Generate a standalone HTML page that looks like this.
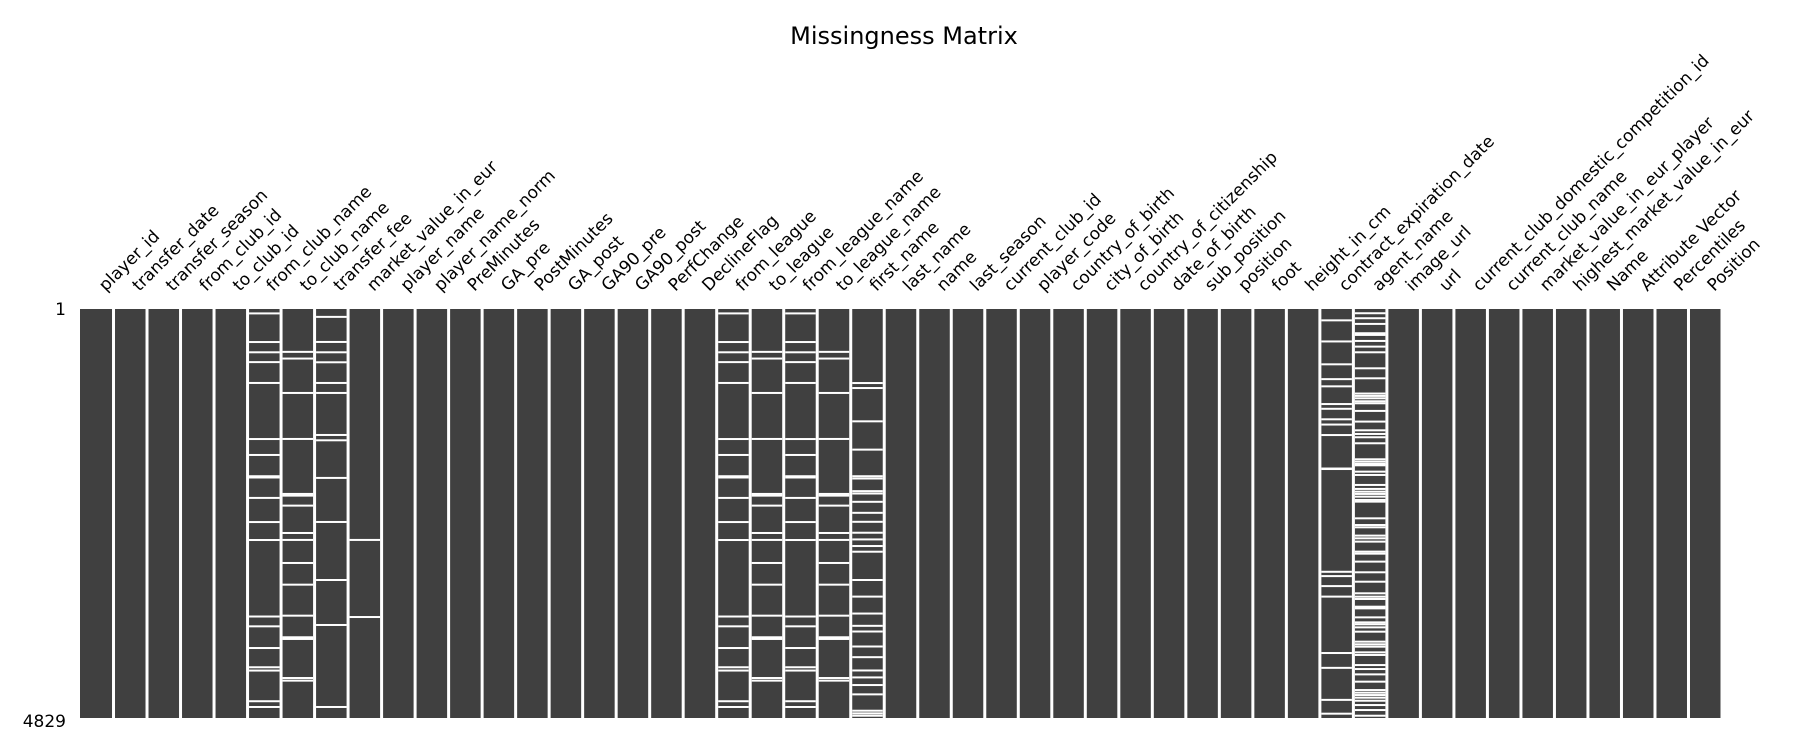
<!DOCTYPE html>
<html><head><meta charset="utf-8"><style>
html,body{margin:0;padding:0;background:#fff;}
svg{display:block;font-family:"DejaVu Sans","Liberation Sans",sans-serif;}
</style></head><body>
<svg id="chart" width="1800" height="750" viewBox="0 0 1800 750">
<text x="904" y="44" font-size="24" text-anchor="middle" fill="#000">Missingness Matrix</text>
<text x="66" y="315" font-size="17" text-anchor="end" fill="#000">1</text>
<text x="66" y="727" font-size="17" text-anchor="end" fill="#000">4829</text>
<g id="bars"></g><g id="labels"></g>
</svg>
<script>
const columns = ["player_id","transfer_date","transfer_season","from_club_id","to_club_id","from_club_name","to_club_name","transfer_fee","market_value_in_eur","player_name","player_name_norm","PreMinutes","GA_pre","PostMinutes","GA_post","GA90_pre","GA90_post","PerfChange","DeclineFlag","from_league","to_league","from_league_name","to_league_name","first_name","last_name","name","last_season","current_club_id","player_code","country_of_birth","city_of_birth","country_of_citizenship","date_of_birth","sub_position","position","foot","height_in_cm","contract_expiration_date","agent_name","image_url","url","current_club_domestic_competition_id","current_club_name","market_value_in_eur_player","highest_market_value_in_eur","Name","Attribute Vector","Percentiles","Position"];
const totalRows = 4829;
const missFromClub = [53,391,512,628,874,1536,1724,1975,1990,2231,2516,2728,3631,3747,4003,4230,4269,4631,4699];
const missToClub = [507,586,992,1535,2184,2204,2322,2645,2727,2999,3255,3621,3876,3896,4357,4388];
const missFee = [94,390,512,630,874,992,1488,1551,1995,2515,3200,3731,4699];
const missMarket = [2727,3637];
const missFirstName = [875,934,1327,1661,1975,2002,2151,2179,2277,2407,2513,2642,2721,2799,2866,3200,3396,3596,3741,3808,3985,4111,4268,4350,4440,4550,4743,4774,4802];
const missContract = [135,384,654,829,914,1123,1179,1303,1365,1489,1884,1890,3103,3154,3272,3396,4062,4237,4615,4778];
const missAgent = [51,110,177,287,307,378,445,512,701,819,999,1027,1055,1090,1114,1204,1330,1433,1476,1515,1586,1775,1803,1830,1846,1921,1960,2078,2125,2157,2184,2216,2255,2275,2472,2551,2578,2676,2708,2747,2865,2889,2983,3109,3220,3357,3397,3424,3515,3535,3641,3700,3723,3759,3810,3928,3959,3987,4054,4085,4204,4251,4314,4400,4499,4530,4558,4589,4625,4676,4735,4802];
const missingByColumn = {
  "from_club_name": missFromClub, "to_club_name": missToClub, "transfer_fee": missFee,
  "market_value_in_eur": missMarket, "from_league": missFromClub, "to_league": missToClub,
  "from_league_name": missFromClub, "to_league_name": missToClub, "first_name": missFirstName,
  "contract_expiration_date": missContract, "agent_name": missAgent
};
</script>
<script>
(function(){
const NS="http://www.w3.org/2000/svg";
const x0=80, x1=1722, y0=309, y1=718;
const n=columns.length;
const cw=(x1-x0)/n;
const xPos=i=>x0+i*cw;
const yPos=r=>y0+(r-1)/(totalRows-1)*(y1-y0);
const bars=document.getElementById('bars');
const labels=document.getElementById('labels');
columns.forEach((c,i)=>{
  const r=document.createElementNS(NS,'rect');
  r.setAttribute('x',xPos(i)+(i?1.5:0));
  r.setAttribute('y',y0);
  r.setAttribute('width',cw-(i?3:1.5));
  r.setAttribute('height',y1-y0);
  r.setAttribute('fill','#404040');
  
  
  bars.appendChild(r);
  (missingByColumn[c]||[]).forEach(row=>{
    const l=document.createElementNS(NS,'rect');
    l.setAttribute('x',xPos(i)+(i?1.5:0));
    l.setAttribute('y',yPos(row)-1);
    l.setAttribute('width',cw-(i?3:1.5));
    l.setAttribute('height',2);
    l.setAttribute('fill','#ffffff');
    
    
    bars.appendChild(l);
  });
  const t=document.createElementNS(NS,'text');
  const cx=xPos(i)+cw/2+9, cy=292;
  t.setAttribute('x',cx);
  t.setAttribute('y',cy);
  t.setAttribute('font-size','17');
  t.setAttribute('fill','#000');
  t.setAttribute('transform','rotate(-45 '+cx+' '+cy+')');
  t.textContent=c;
  
  
  labels.appendChild(t);
});
})();
</script>
</body></html>
